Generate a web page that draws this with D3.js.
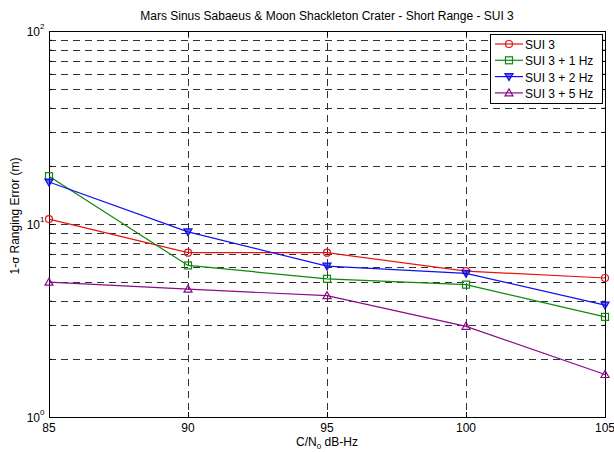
<!DOCTYPE html>
<html><head><meta charset="utf-8">
<script src="https://cdn.jsdelivr.net/npm/d3@7"></script>
<style>
body{margin:0;background:#fff;}
svg{display:block;font-family:"Liberation Sans",Arial,sans-serif;}
</style></head>
<body><svg id="c" width="614" height="452"></svg>
<script>
const cn0 = [85, 90, 95, 100, 105];
const sui3 = [10.6, 7.1, 7.1, 5.7, 5.25];
const sui3_1Hz = [17.7, 6.1, 5.2, 4.85, 3.3];
const sui3_2Hz = [16.5, 9.1, 6.05, 5.55, 3.8];
const sui3_5Hz = [5.0, 4.6, 4.25, 2.95, 1.66];
const seriesNames = ["SUI 3", "SUI 3 + 1 Hz", "SUI 3 + 2 Hz", "SUI 3 + 5 Hz"];
const xTicks = [85, 90, 95, 100, 105];
const yMajor = [1, 10, 100];
const titleText = "Mars Sinus Sabaeus & Moon Shackleton Crater - Short Range - SUI 3";

const series = [
  {name: seriesNames[0], values: sui3, color: "#e41414", marker: "circle"},
  {name: seriesNames[1], values: sui3_1Hz, color: "#0a8a0a", marker: "square"},
  {name: seriesNames[2], values: sui3_2Hz, color: "#1010ee", marker: "tdown"},
  {name: seriesNames[3], values: sui3_5Hz, color: "#8a0a8a", marker: "tup"}
];

const L = 49, R = 605, T = 31, B = 417;
const svg = d3.select("#c");
const x = d3.scaleLinear().domain([85, 105]).range([L, R]);
const y = d3.scaleLog().domain([1, 100]).range([B, T]);

const yMinor = [];
for (const d of [1, 10]) for (let k = 2; k <= 9; k++) yMinor.push(d * k);
const yAll = yMinor.concat([10]);

const grid = svg.append("g").attr("stroke", "#333").attr("stroke-width", 1)
  .attr("stroke-dasharray", "7,5").attr("shape-rendering", "crispEdges");
yAll.forEach(v => {
  grid.append("line").attr("x1", L).attr("x2", R)
    .attr("y1", Math.round(y(v)) + 0.5).attr("y2", Math.round(y(v)) + 0.5);
});
xTicks.slice(1, -1).forEach(v => {
  grid.append("line").attr("y1", T).attr("y2", B)
    .attr("x1", Math.round(x(v)) + 0.5).attr("x2", Math.round(x(v)) + 0.5);
});

const axB = d3.axisBottom(x).tickValues(xTicks).tickSize(-5).tickFormat("");
const axT = d3.axisTop(x).tickValues(xTicks).tickSize(-5).tickFormat("");
const axL = d3.axisLeft(y).tickValues(yMajor).tickSize(-5).tickFormat("");
const axR = d3.axisRight(y).tickValues(yMajor).tickSize(-5).tickFormat("");
const axLm = d3.axisLeft(y).tickValues(yMinor).tickSize(-3).tickFormat("");
const axRm = d3.axisRight(y).tickValues(yMinor).tickSize(-3).tickFormat("");
[[axB, `translate(0,${B})`], [axT, `translate(0,${T})`], [axL, `translate(${L},0)`],
 [axR, `translate(${R},0)`], [axLm, `translate(${L},0)`], [axRm, `translate(${R},0)`]].forEach(([a, t]) => {
  const g = svg.append("g").attr("transform", t).call(a);
  g.select(".domain").remove();
  g.selectAll("line").attr("stroke", "#000");
});
svg.append("rect").attr("x", L + 0.5).attr("y", T + 0.5).attr("width", R - L).attr("height", B - T)
  .attr("fill", "none").attr("stroke", "#000").attr("stroke-width", 1);

xTicks.forEach(v => {
  svg.append("text").attr("x", x(v)).attr("y", B + 15).attr("text-anchor", "middle")
    .attr("font-size", 12).text(v);
});
yMajor.forEach(v => {
  svg.append("text").attr("x", L - 9).attr("y", y(v) + 5).attr("text-anchor", "end")
    .attr("font-size", 12).text("10");
  svg.append("text").attr("x", L - 9).attr("y", y(v) - 2).attr("font-size", 8)
    .text(Math.round(Math.log10(v)));
});

svg.append("text").attr("x", (L + R) / 2).attr("y", 20).attr("text-anchor", "middle")
  .attr("font-size", 12).text(titleText);
const xl = svg.append("text").attr("x", (L + R) / 2).attr("y", B + 29).attr("text-anchor", "middle")
  .attr("font-size", 12);
xl.append("tspan").text("C/N");
xl.append("tspan").attr("dy", 3).attr("font-size", 8).text("0");
xl.append("tspan").attr("dy", -3).text(" dB-Hz");
const yl = svg.append("text").attr("transform", `translate(19,${(T + B) / 2 - 8}) rotate(-90)`)
  .attr("text-anchor", "middle").attr("font-size", 12);
yl.append("tspan").text("1-");
yl.append("tspan").attr("font-family", "DejaVu Sans").attr("font-size", 11).text("σ");
yl.append("tspan").text(" Ranging Error (m)");

function drawMarker(g, type, cx, cy, color) {
  if (type === "circle") g.append("circle").attr("cx", cx).attr("cy", cy).attr("r", 3.5)
    .attr("fill", "none").attr("stroke", color).attr("stroke-width", 1.2);
  else if (type === "square") g.append("rect").attr("x", cx - 3.5).attr("y", cy - 3.5)
    .attr("width", 7).attr("height", 7).attr("fill", "none").attr("stroke", color).attr("stroke-width", 1.2);
  else if (type === "tdown") g.append("path")
    .attr("d", `M${cx - 4},${cy - 3}L${cx + 4},${cy - 3}L${cx},${cy + 4}Z`)
    .attr("fill", color).attr("fill-opacity", 0.6).attr("stroke", color).attr("stroke-width", 1.2);
  else g.append("path")
    .attr("d", `M${cx - 4},${cy + 3}L${cx + 4},${cy + 3}L${cx},${cy - 4}Z`)
    .attr("fill", "none").attr("stroke", color).attr("stroke-width", 1.2);
}

const line = d3.line().x((d, i) => x(cn0[i])).y(d => y(d));
series.forEach(s => {
  const g = svg.append("g");
  g.append("path").attr("d", line(s.values)).attr("fill", "none")
    .attr("stroke", s.color).attr("stroke-width", 1.2);
  s.values.forEach((v, i) => drawMarker(g, s.marker, x(cn0[i]), y(v), s.color));
});

const lx = 490, ly = 34, lw = 112, lh = 69;
svg.append("rect").attr("x", lx + 0.5).attr("y", ly + 0.5).attr("width", lw).attr("height", lh)
  .attr("fill", "#fff").attr("stroke", "#000").attr("stroke-width", 1);
series.forEach((s, i) => {
  const yy = ly + 10 + i * 16.3;
  const g = svg.append("g");
  g.append("line").attr("x1", lx + 5).attr("x2", lx + 33).attr("y1", yy).attr("y2", yy)
    .attr("stroke", s.color).attr("stroke-width", 1.2);
  drawMarker(g, s.marker, lx + 19, yy, s.color);
  svg.append("text").attr("x", lx + 35).attr("y", yy + 5).attr("font-size", 12).text(s.name);
});
</script></body></html>
